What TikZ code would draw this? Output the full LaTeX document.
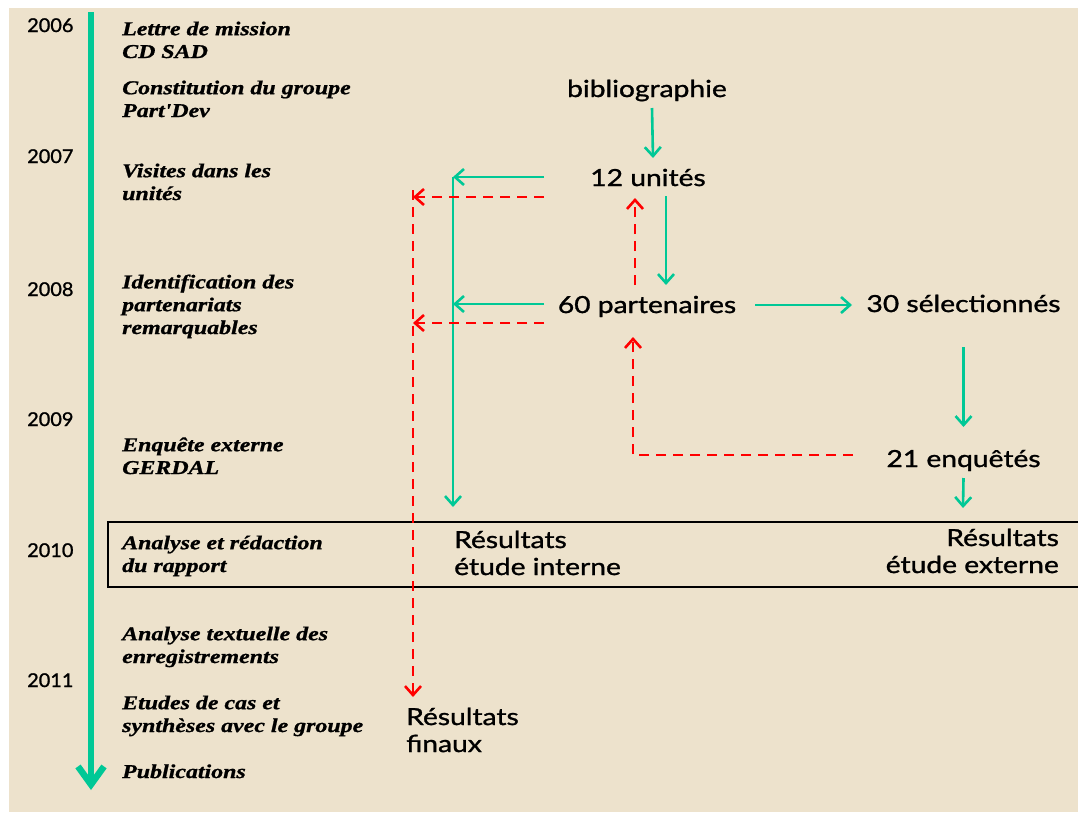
\documentclass[tikz,border=0pt]{standalone}
\usepackage{fontspec}
\setmainfont{Liberation Serif}
\newfontfamily\itf[FakeStretch=1.22,FakeBold=1]{Liberation Serif}
\newfontfamily\lsans[FakeStretch=1.2,FakeBold=1.2]{Lato}
\newfontfamily\ysans[FakeStretch=1.05,FakeBold=1.2]{Lato}
\usetikzlibrary{arrows.meta}
\definecolor{tgreen}{RGB}{0,200,150}
\definecolor{bgbeige}{RGB}{237,226,204}
\begin{document}
\begin{tikzpicture}[x=1pt,y=-1pt,
  lab/.style={font=\itf\bfseries\itshape\fontsize{19.6}{22.8}\selectfont, align=left, anchor=base west, inner sep=0pt},
  yr/.style={font=\ysans\fontsize{19}{22}\selectfont, anchor=base west, inner sep=0pt},
  stxt/.style={font=\lsans\fontsize{23.5}{27}\selectfont, anchor=base, inner sep=0pt},
  garrow/.style={draw=tgreen, line width=2.6pt, -{Straight Barb[length=9pt,width=16pt]}},
  rarrow/.style={draw=red, line width=2.6pt, dash pattern=on 10pt off 7pt, -{Straight Barb[length=9pt,width=16pt]}}]
\useasboundingbox (0,0) rectangle (1078,812);
\fill[white] (0,0) rectangle (1078,812);
\fill[bgbeige] (9,8) rectangle (1078,812);

% timeline
\coordinate (tltop) at (91,12);
\coordinate (tlbot) at (91,790);
\draw[draw=tgreen, line width=6.5pt, -{Straight Barb[length=18pt,width=26pt]}] (tltop) -- (tlbot);

% years
\node[yr] (y06) at (27,32) {2006};
\node[yr] (y07) at (27,163) {2007};
\node[yr] (y08) at (27,296) {2008};
\node[yr] (y09) at (27,426) {2009};
\node[yr] (y10) at (27,557) {2010};
\node[yr] (y11) at (27,687) {2011};

% stages (base = baseline of last line)
\node[lab] (l1) at (122,58) {Lettre de mission\\CD SAD};
\node[lab] (l2) at (122,117) {Constitution du groupe\\Part'Dev};
\node[lab] (l3) at (122,200) {Visites dans les\\unités};
\node[lab] (l4) at (122,334) {Identification des\\partenariats\\remarquables};
\node[lab] (l5) at (122,474) {Enquête externe\\GERDAL};
\node[lab] (l6) at (122,572) {Analyse et rédaction\\du rapport};
\node[lab] (l7) at (122,663) {Analyse textuelle des\\enregistrements};
\node[lab] (l8) at (122,732) {Etudes de cas et\\synthèses avec le groupe};
\node[lab] (l9) at (122,778) {Publications};

% box
\draw[line width=2pt] (108,522) rectangle (1090,587);

% flow nodes
\node[stxt] (biblio) at (647,97) {bibliographie};
\node[stxt] (u12) at (648,186) {12 unités};
\node[stxt] (p60) at (647,313) {60 partenaires};
\node[stxt] (s30) at (963.5,312) {30 sélectionnés};
\node[stxt] (e21) at (963.5,467) {21 enquêtés};
\node[stxt, align=left, anchor=base west] (rint) at (454,575) {Résultats\\étude interne};
\node[stxt, align=right, anchor=base east] (rext) at (1059,573) {Résultats\\étude externe};
\node[stxt, align=left, anchor=base west] (rfin) at (406,752) {Résultats\\finaux};

% collector coordinates
\coordinate (g1) at (453,177);
\coordinate (g2) at (453,304);
\coordinate (r0) at (413,190);
\coordinate (r1) at (413,197);
\coordinate (r2) at (413,323);

% green arrows
\draw[garrow] ([shift={(5,11)}]biblio.base) -- ([shift={(5,-28)}]u12.base);
\draw[garrow] ([shift={(18,10)}]u12.base) -- ([shift={(19,-28)}]p60.base);
\draw[garrow] ([shift={(108,-8)}]p60.base) -- ([shift={(-111.5,-7)}]s30.base);
\draw[garrow] ([shift={(0,35)}]s30.base) -- ([shift={(0,-40)}]e21.base);
\draw[garrow] ([shift={(0,11)}]e21.base) -- ([shift={(-96,-65)}]rext.base east);
\draw[garrow] ([shift={(-104,-9)}]u12.base) -- (g1);
\draw[garrow] ([shift={(-103,-9)}]p60.base) -- (g2);
\draw[garrow] (g1) -- ([shift={(-1,-68)}]rint.base west);

% red dashed arrows
\draw[rarrow] ([shift={(-12,-28)}]p60.base) -- ([shift={(-13,12)}]u12.base);
\draw[rarrow] ([shift={(-104,11)}]u12.base) -- (r1);
\draw[rarrow] ([shift={(-103,10)}]p60.base) -- (r2);
\draw[rarrow] (r0) -- ([shift={(7,-55)}]rfin.base west);
\draw[rarrow] ([shift={(-110.5,-12)}]e21.base) -| ([shift={(-14,24)}]p60.base);
\end{tikzpicture}
\end{document}
